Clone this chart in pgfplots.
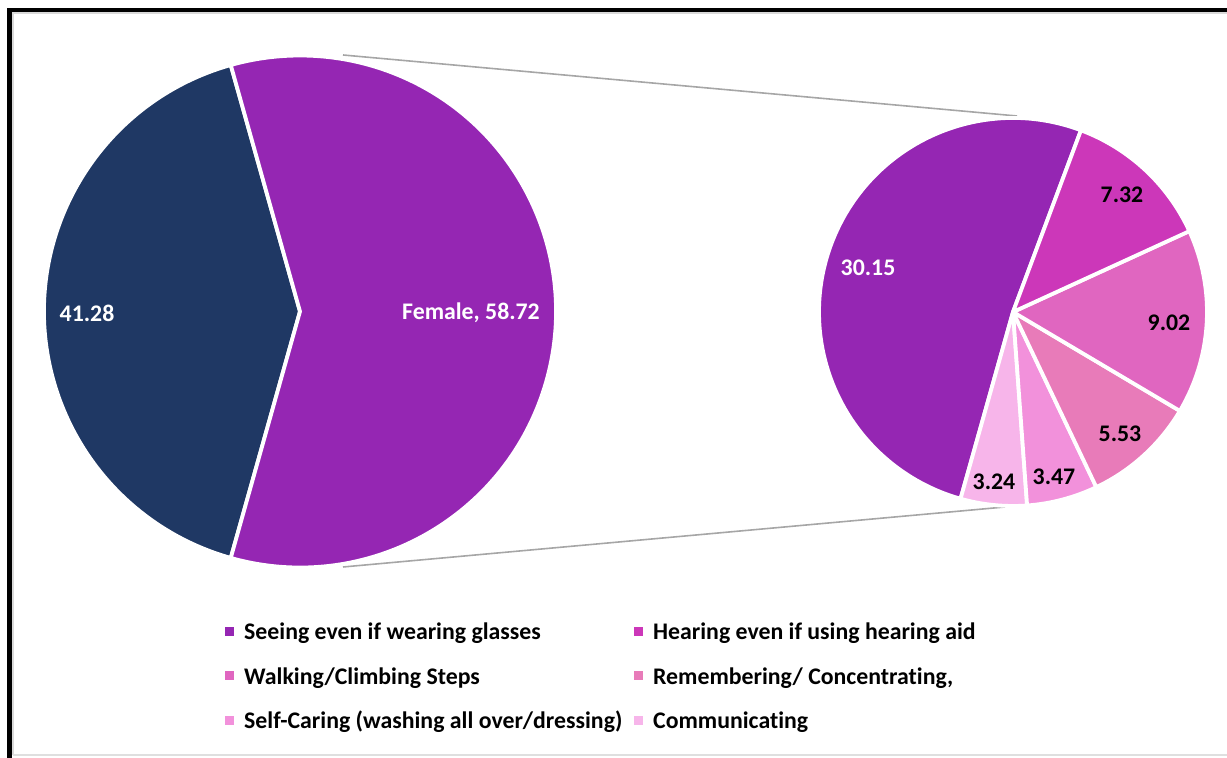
\documentclass[border=0pt]{standalone}
\usepackage{fontspec}
\setmainfont{Carlito}[Ligatures=NoCommon]
\usepackage{pgfplots}
\usepackage{pgfplotstable}
\pgfplotsset{compat=1.18}

\definecolor{cNavy}{RGB}{31,56,100}
\definecolor{cPurple}{RGB}{149,38,179}
\definecolor{cHear}{RGB}{204,55,185}
\definecolor{cWalk}{RGB}{224,102,192}
\definecolor{cRem}{RGB}{232,123,185}
\definecolor{cSelf}{RGB}{242,145,219}
\definecolor{cComm}{RGB}{247,181,234}
\definecolor{cLine}{RGB}{166,166,166}

% main pie (gender)
\pgfplotstableread{
name value col
Male 41.28 cNavy
Female 58.72 cPurple
}\gendertable

% secondary pie (female by difficulty), counter-clockwise order
\pgfplotstableread{
name value col
Seeing 30.15 cPurple
Communicating 3.24 cComm
SelfCaring 3.47 cSelf
Remembering 5.53 cRem
Walking 9.02 cWalk
Hearing 7.32 cHear
}\difftable

% #1 table, #2 cx, #3 cy (axis units), #4 radius (axis units), #5 start angle
\newcommand\drawpie[5]{%
  \pgfplotstablegetrowsof{#1}%
  \pgfmathtruncatemacro\pienrows{\pgfplotsretval-1}%
  \gdef\pietotal{0}%
  \foreach \i in {0,...,\pienrows}{%
    \pgfplotstablegetelem{\i}{value}\of{#1}%
    \pgfmathsetmacro\pietmp{\pietotal+\pgfplotsretval}%
    \xdef\pietotal{\pietmp}%
  }%
  \xdef\pieacc{#5}%
  \foreach \i in {0,...,\pienrows}{%
    \pgfplotstablegetelem{\i}{value}\of{#1}\let\pieval\pgfplotsretval
    \pgfplotstablegetelem{\i}{col}\of{#1}\let\piecol\pgfplotsretval
    \pgfmathsetmacro\piefrac{\pieval/\pietotal}%
    \pgfmathsetmacro\pieend{\pieacc+360*\piefrac}%
    \pgfmathsetmacro\piesx{#2+#4*cos(\pieacc)}%
    \pgfmathsetmacro\piesy{#3+#4*sin(\pieacc)}%
    \pgfmathsetmacro\pierad{#4*0.5}%
    \fill[fill=\piecol, draw=white, line width=1.9pt, line join=round]
      (axis cs:#2,#3) -- (axis cs:\piesx,\piesy)
      arc[start angle=\pieacc, end angle=\pieend, radius=\pierad pt] -- cycle;
    \xdef\pieacc{\pieend}%
  }%
}

\begin{document}
\begin{tikzpicture}
\begin{axis}[
  x=0.5pt, y=0.5pt,
  xmin=0, xmax=1227, ymin=0, ymax=758,
  disabledatascaling,
  hide axis, clip=false,
  legend columns=2,
  legend cell align=left,
  legend image code/.code={\fill[#1] (0pt,-0.9pt) rectangle (4pt,3.1pt);},
  legend style={draw=none, fill=none,
    at={(axis description cs:0.1834,0.1055)}, anchor=west,
    inner sep=0pt, row sep=11pt,
    font=\fontsize{11.9}{14}\selectfont\bfseries,
    nodes={inner sep=0pt, text height=8.6pt, text depth=2.6pt},
    /tikz/column 1/.style={column sep=5pt},
    /tikz/column 2/.style={column sep=6pt},
    /tikz/column 3/.style={column sep=5pt}},
]
\addlegendimage{cPurple}
\addlegendentry{Seeing even if wearing glasses}
\addlegendimage{cHear}
\addlegendentry{Hearing even if using hearing aid}
\addlegendimage{cWalk}
\addlegendentry{Walking/Climbing Steps}
\addlegendimage{cRem}
\addlegendentry{Remembering/ Concentrating,}
\addlegendimage{cSelf}
\addlegendentry{Self-Caring (washing all over/dressing)}
\addlegendimage{cComm}
\addlegendentry{Communicating}

% connector lines
\addplot[cLine, line width=0.8pt, forget plot] coordinates {(343,703) (1017,642)};
\addplot[cLine, line width=0.8pt, forget plot] coordinates {(343,191) (1005,251)};

\pgfplotsextra{
  \drawpie{\gendertable}{300}{446.5}{256}{105.7}
  \drawpie{\difftable}{1013}{446}{194}{69.5}
  % frame
  \draw[black, line width=2.5pt] (axis cs:9.5,0) -- (axis cs:9.5,747.5) -- (axis cs:1227,747.5);
  \draw[gray!30, line width=1pt] (axis cs:13,3) -- (axis cs:13,744.5) -- (axis cs:1227,744.5);
  \draw[gray!25, line width=1pt] (axis cs:13,3) -- (axis cs:1227,3);
}

% data labels
\begin{scope}[every node/.style={font=\fontsize{11.9}{14}\selectfont\bfseries, inner sep=0pt}]
\node[white] at (axis cs:87,445) {41.28};
\node[white] at (axis cs:471,445) {Female, 58.72};
\node[white] at (axis cs:868,490) {30.15};
\node[black] at (axis cs:1122,563) {7.32};
\node[black] at (axis cs:1169,435) {9.02};
\node[black] at (axis cs:1120,324) {5.53};
\node[black] at (axis cs:1054,281) {3.47};
\node[black] at (axis cs:994,276) {3.24};
\end{scope}
\end{axis}
\pgfresetboundingbox
\path (0,0) rectangle (613.5pt,379pt);
\end{tikzpicture}
\end{document}
